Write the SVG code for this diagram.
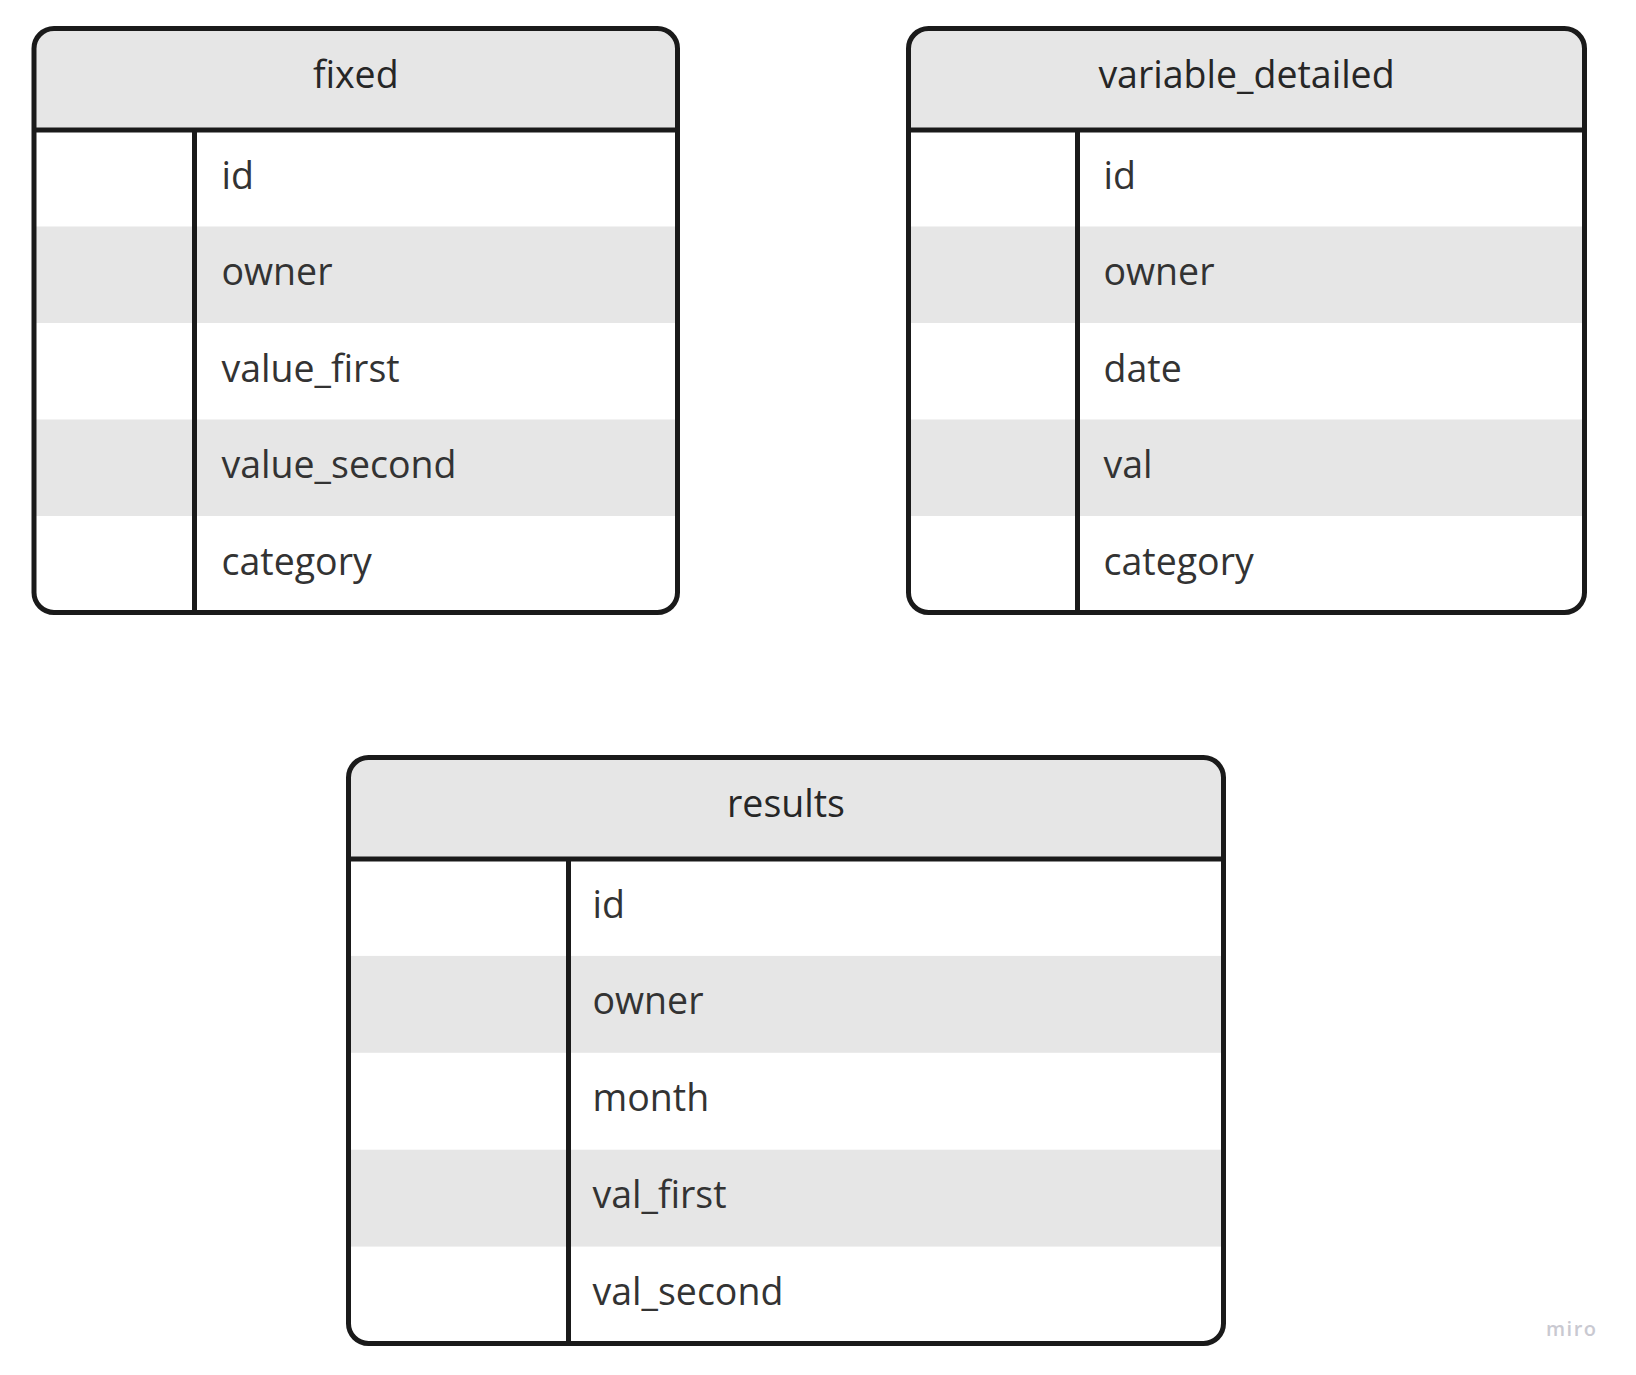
<svg xmlns="http://www.w3.org/2000/svg" width="1636" height="1375" viewBox="0 0 1636 1375">
<style>
.bg{fill:#ffffff}
.hd{fill:#e6e6e6}
.st{fill:#e6e6e6}
.ln{fill:none;stroke:#1a1a1a;stroke-width:5;stroke-linecap:butt}
.box{fill:none;stroke:#1a1a1a;stroke-width:5}
.tt{font-family:"Open Sans","Liberation Sans",sans-serif;font-size:37.5px;fill:#262626;text-anchor:middle}
.tx{font-family:"Open Sans","Liberation Sans",sans-serif;font-size:37.5px;fill:#333333}
.wm{font-family:"Open Sans","Liberation Sans",sans-serif;font-size:20px;fill:#c9c9d1;letter-spacing:1.5px;font-weight:600}
</style>
<rect width="1636" height="1375" fill="#ffffff"/>
<g id="fixed">
<rect class="bg" x="34" y="28.5" width="643.5" height="584" rx="20"/>
<path class="hd" d="M34,130 V48.5 A20,20 0 0 1 54,28.5 H657.5 A20,20 0 0 1 677.5,48.5 V130 Z"/>
<rect class="st" x="34" y="226.5" width="643.5" height="96.5"/>
<rect class="st" x="34" y="419.5" width="643.5" height="96.5"/>
<line class="ln" x1="34" y1="130" x2="677.5" y2="130"/>
<line class="ln" x1="194.5" y1="130" x2="194.5" y2="612.5"/>
<rect class="box" x="34" y="28.5" width="643.5" height="584" rx="20"/>
<text class="tt" x="355.75" y="88">fixed</text>
<text class="tx" x="221.5" y="188.5">id</text>
<text class="tx" x="221.5" y="285">owner</text>
<text class="tx" x="221.5" y="381.5">value_first</text>
<text class="tx" x="221.5" y="478">value_second</text>
<text class="tx" x="221.5" y="574.5">category</text>
</g>
<g id="variable_detailed">
<rect class="bg" x="908.5" y="28.5" width="676" height="584" rx="20"/>
<path class="hd" d="M908.5,130 V48.5 A20,20 0 0 1 928.5,28.5 H1564.5 A20,20 0 0 1 1584.5,48.5 V130 Z"/>
<rect class="st" x="908.5" y="226.5" width="676" height="96.5"/>
<rect class="st" x="908.5" y="419.5" width="676" height="96.5"/>
<line class="ln" x1="908.5" y1="130" x2="1584.5" y2="130"/>
<line class="ln" x1="1077.5" y1="130" x2="1077.5" y2="612.5"/>
<rect class="box" x="908.5" y="28.5" width="676" height="584" rx="20"/>
<text class="tt" x="1246.5" y="88">variable_detailed</text>
<text class="tx" x="1103.5" y="188.5">id</text>
<text class="tx" x="1103.5" y="285">owner</text>
<text class="tx" x="1103.5" y="381.5">date</text>
<text class="tx" x="1103.5" y="478">val</text>
<text class="tx" x="1103.5" y="574.5">category</text>
</g>
<g id="results">
<rect class="bg" x="348.5" y="757.5" width="875" height="586" rx="20"/>
<path class="hd" d="M348.5,859 V777.5 A20,20 0 0 1 368.5,757.5 H1203.5 A20,20 0 0 1 1223.5,777.5 V859 Z"/>
<rect class="st" x="348.5" y="955.9" width="875" height="96.9"/>
<rect class="st" x="348.5" y="1149.7" width="875" height="96.9"/>
<line class="ln" x1="348.5" y1="859" x2="1223.5" y2="859"/>
<line class="ln" x1="568.5" y1="859" x2="568.5" y2="1343.5"/>
<rect class="box" x="348.5" y="757.5" width="875" height="586" rx="20"/>
<text class="tt" x="786" y="817">results</text>
<text class="tx" x="592.5" y="917.5">id</text>
<text class="tx" x="592.5" y="1014.4">owner</text>
<text class="tx" x="592.5" y="1111.3">month</text>
<text class="tx" x="592.5" y="1208.2">val_first</text>
<text class="tx" x="592.5" y="1305.1">val_second</text>
</g>
<g id="connectors"></g>
<text class="wm" x="1546" y="1336">miro</text>
</svg>
